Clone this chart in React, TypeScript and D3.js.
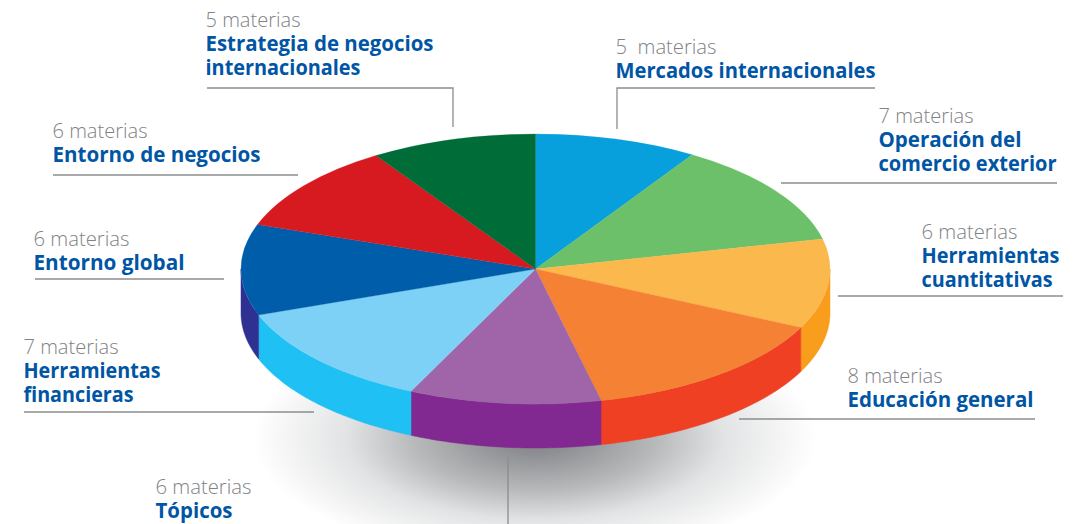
import React from "react";
import * as d3 from "d3";

const W = 1083, H = 524;
// Slice sizes as drawn in the picture (they follow the course counts closely, not exactly)
const sliceShares = [5, 7, 6, 8, 5.89, 7.01, 6.1, 5.9, 5.1];
const topColors = ["#079FDC", "#6CC06A", "#FBB84C", "#F58134", "#A065A9", "#7DD1F6", "#005DAA", "#D71920", "#006D38"];
const sideColors = ["#079FDC", "#6CC06A", "#F99D1C", "#F04023", "#812990", "#1FC0F4", "#2E3192", "#D71920", "#006D38"];
const countLabels = ["5  materias", "7 materias", "6 materias", "8 materias", "6 materias", "7 materias", "6 materias", "6 materias", "5 materias"];
const titles = [
  ["Mercados internacionales"],
  ["Operación del", "comercio exterior"],
  ["Herramientas", "cuantitativas"],
  ["Educación general"],
  ["Tópicos"],
  ["Herramientas", "financieras"],
  ["Entorno global"],
  ["Entorno de negocios"],
  ["Estrategia de negocios", "internacionales"],
];
const layout = [
  { x: 615.5, y: 54, cw: 101, tw: [260], line: [[875, 88], [617, 88], [617, 129]] },
  { x: 878.5, y: 123, cw: 95, tw: [143, 178], line: [[1057, 183], [781, 183]] },
  { x: 921.5, y: 239, cw: 96, tw: [138, 131], line: [[1063, 296], [838, 296]] },
  { x: 847.5, y: 383, cw: 95, tw: [186], line: [[1035, 419], [739, 419]] },
  { x: 155.5, y: 494, cw: 96, tw: [77], line: [[508, 524], [508, 457]] },
  { x: 23.5, y: 354, cw: 95, tw: [137, 110], line: [[24, 412], [314, 412]] },
  { x: 33.5, y: 246, cw: 96, tw: [151], line: [[35, 279], [224, 279]] },
  { x: 52.5, y: 138, cw: 95, tw: [208], line: [[53, 175], [298, 175]] },
  { x: 205.5, y: 27, cw: 95, tw: [228, 155], line: [[207, 88], [453, 88], [453, 127]] },
];

const cx = 535.5, cy = 269, rx = 294.5, ry = 135, depth = 44;
const toXY = (a: number, d = 0): [number, number] => [cx + rx * Math.sin(a), cy - ry * Math.cos(a) + d];

export default function App() {
  const arcs = d3.pie<number>().sort(null)(sliceShares);
  const arcGen = d3.arc<d3.PieArcDatum<number>>().innerRadius(0).outerRadius(rx);
  const lineGen = d3.line();
  const walls = arcs.map((s) => {
    const a0 = Math.max(s.startAngle, Math.PI / 2);
    const a1 = Math.min(s.endAngle, (3 * Math.PI) / 2);
    if (a1 <= a0) return null;
    const n = 60;
    const angles = d3.range(n + 1).map((i) => a0 + ((a1 - a0) * i) / n);
    const pts = [...angles.map((a) => toXY(a)), ...angles.slice().reverse().map((a) => toXY(a, depth))];
    return lineGen(pts as [number, number][]) + "Z";
  });
  const font = "'Open Sans', sans-serif";
  return (
    <svg width={W} height={H} viewBox={`0 0 ${W} ${H}`} style={{ position: "absolute", left: 0, top: 0, display: "block", background: "#fff" }}>
      <defs>
        <radialGradient id="shadow">
          <stop offset="0" stopColor="#808185" />
          <stop offset="0.14" stopColor="#8f9093" />
          <stop offset="0.43" stopColor="#b8b9bb" />
          <stop offset="0.67" stopColor="#e2e3e4" />
          <stop offset="1" stopColor="#ffffff" />
        </radialGradient>
      </defs>
      <ellipse cx={535} cy={438} rx={282} ry={122} fill="url(#shadow)" />
      {walls.map((d, i) => d && <path key={i} d={d} fill={sideColors[i]} stroke={sideColors[i]} strokeWidth={0.5} />)}
      <g transform={`translate(${cx},${cy}) scale(1,${ry / rx})`}>
        {arcs.map((s, i) => (
          <path key={i} d={arcGen(s) ?? ""} fill={topColors[i]} stroke={topColors[i]} strokeWidth={0.4} />
        ))}
      </g>
      {layout.map((l, i) => (
        <g key={i}>
          <polyline points={l.line.map((p) => p.join(",")).join(" ")} fill="none" stroke="#8a8c8e" strokeWidth={1.3} />
          <text x={l.x} y={l.y} fontFamily={font} fontWeight={300} fontSize={21} fill="#808285" textLength={l.cw} lengthAdjust="spacingAndGlyphs" style={{ whiteSpace: "pre" }}>
            {countLabels[i]}
          </text>
          {titles[i].map((t, j) => (
            <text key={j} x={l.x} y={l.y + 24 + j * 24} fontFamily={font} fontWeight={700} fontSize={22} fill="#0055A5" textLength={l.tw[j]} lengthAdjust="spacingAndGlyphs">
              {t}
            </text>
          ))}
        </g>
      ))}
    </svg>
  );
}
